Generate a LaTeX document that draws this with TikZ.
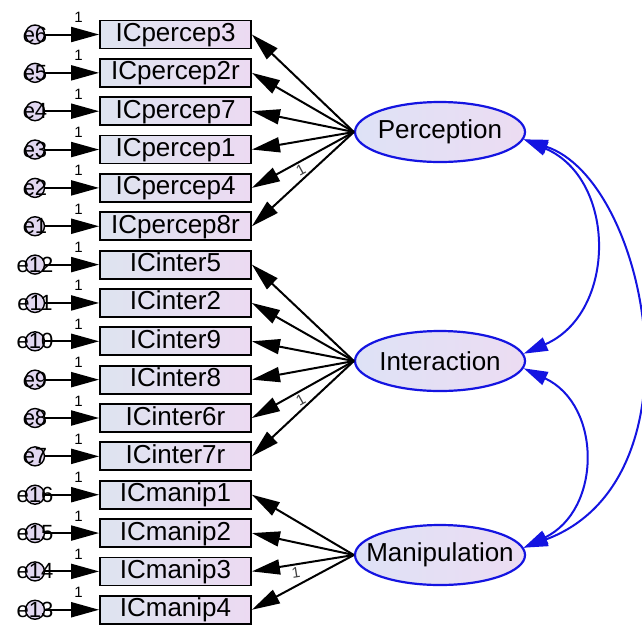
\documentclass[tikz,border=0pt]{standalone}
\usepackage{fontspec}
\setmainfont{Liberation Sans}
\usetikzlibrary{arrows.meta,shapes.geometric}
\definecolor{latblue}{RGB}{20,20,225}
\definecolor{boxL}{RGB}{222,228,240}
\definecolor{boxR}{RGB}{236,218,242}
\definecolor{ellL}{RGB}{222,226,246}
\definecolor{ellR}{RGB}{236,220,242}
\definecolor{errfill}{RGB}{225,215,240}
\begin{document}
\begin{tikzpicture}[x=1pt,y=-1pt,
  obs/.style={draw=black,line width=1.8pt,minimum width=151pt,minimum height=28pt,
    inner sep=0pt,left color=boxL,right color=boxR,
    font=\fontsize{26}{26}\selectfont,text height=19pt,text depth=5pt},
  lat/.style={ellipse,draw=latblue,line width=2.2pt,minimum width=170pt,minimum height=60pt,
    inner sep=0pt,left color=ellL,right color=ellR,font=\fontsize{26}{26}\selectfont},
  err/.style={circle,draw=black,line width=1.4pt,fill=errfill,minimum size=19pt,inner sep=0pt},
  errlab/.style={font=\fontsize{22}{22}\selectfont,inner sep=0pt},
  onelab/.style={font=\fontsize{15}{15}\selectfont,inner sep=0pt},
  earr/.style={line width=2pt,-{Triangle[length=28pt,width=15pt]}},
  load/.style={line width=2pt,{Triangle[length=28pt,width=15pt]}-},
  cov/.style={draw=latblue,line width=2pt,
    {Triangle[length=24pt,width=14pt]}-{Triangle[length=24pt,width=14pt]}}
]
\fill[white] (0,0) rectangle (642,630);
\useasboundingbox (0,0) rectangle (642,630);

\foreach \i/\t/\e in {1/ICpercep3/e6, 2/ICpercep2r/e5, 3/ICpercep7/e4, 4/ICpercep1/e3,
  5/ICpercep4/e2, 6/ICpercep8r/e1, 7/ICinter5/e12, 8/ICinter2/e11, 9/ICinter9/e10,
  10/ICinter8/e9, 11/ICinter6r/e8, 12/ICinter7r/e7, 13/ICmanip1/e16, 14/ICmanip2/e15,
  15/ICmanip3/e14, 16/ICmanip4/e13} {
  \pgfmathsetmacro\yy{34.5+38.35*(\i-1)}
  \node[obs] (b\i) at (175.5,\yy) {\t};
  \node[err,label={[errlab]center:\e}] (c\i) at (35,\yy) {};
  \draw[earr] (c\i) -- node[pos=0.62,above=11pt,onelab]{1} (b\i);
}

\node[lat] (P) at (440,132) {\makebox[0pt]{Perception}};
\node[lat] (I) at (440,361) {\makebox[0pt]{Interaction}};
\node[lat] (M) at (440,555) {\makebox[0pt]{Manipulation}};

\foreach \i in {1,2,3,4,6} \draw[load] (b\i.east) -- (P.west);
\draw[load] (b5.east) -- node[pos=0.44,sloped,below=2pt,onelab,text=black!75]{1} (P.west);
\foreach \i in {7,8,9,10,12} \draw[load] (b\i.east) -- (I.west);
\draw[load] (b11.east) -- node[pos=0.44,sloped,below=2pt,onelab,text=black!75]{1} (I.west);
\foreach \i in {13,14,16} \draw[load] (b\i.east) -- (M.west);
\draw[load] (b15.east) -- node[pos=0.42,sloped,below=2pt,onelab,text=black!75]{1} (M.west);

\draw[cov] (P.-5) .. controls (617,179) and (617,313) .. (I.5);
\draw[cov] (I.-5) .. controls (602,405) and (602,510) .. (M.5);
\draw[cov] (P.-5) .. controls (648,180) and (706,480) .. (M.5);
\end{tikzpicture}
\end{document}
